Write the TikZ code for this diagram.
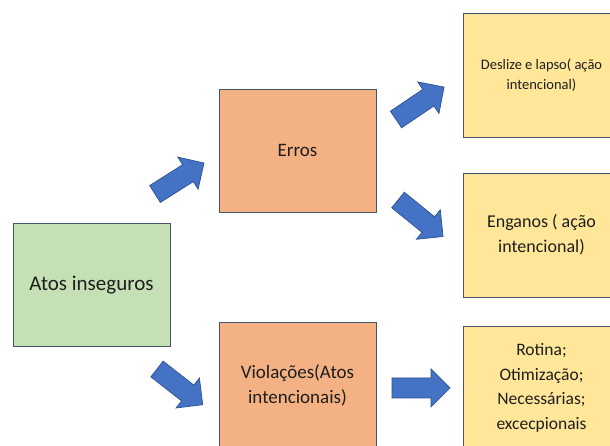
\documentclass[tikz,border=0pt]{standalone}
\usepackage{fontspec}
\setmainfont{Carlito}
\usetikzlibrary{calc}

\definecolor{boxgreen}{HTML}{C5E0B4}
\definecolor{boxorange}{HTML}{F4B183}
\definecolor{boxyellow}{HTML}{FFE699}
\definecolor{boxline}{HTML}{44546A}
\definecolor{arrowfill}{HTML}{4472C4}
\definecolor{arrowline}{HTML}{2F528F}
\definecolor{textdark}{HTML}{1E1E1E}

\tikzset{
  x=1pt, y=1pt,
  box/.style={draw=boxline, line width=0.9pt, minimum width=157pt,
    minimum height=123pt, inner sep=0pt, align=center, text=textdark},
  greenbox/.style={box, fill=boxgreen},
  orangebox/.style={box, fill=boxorange},
  yellowbox/.style={box, fill=boxyellow},
  arrowbody/.style={fill=arrowfill, draw=arrowline, line width=0.7pt, line join=miter},
  pics/blockarrow/.style={code={
    \draw[arrowbody] (0,-10) -- (39,-10) -- (39,-19) -- (58,0)
      -- (39,19) -- (39,10) -- (0,10) -- cycle;}}
}

\begin{document}
\begin{tikzpicture}
\useasboundingbox (0,0) rectangle (610,446);
\clip (0,0) rectangle (610,446);
\fill[white] (0,0) rectangle (610,446);

% boxes
\node[greenbox, font=\fontsize{21}{25}\selectfont] (atos) at (91.5,161)
  {Atos inseguros};
\node[orangebox, font=\fontsize{19}{24}\selectfont] (erros) at (297.5,295.5)
  {Erros};
\node[orangebox, minimum height=127pt, font=\fontsize{19}{25}\selectfont] (viol) at (297.5,60.5)
  {Violações(Atos\\intencionais)};
\node[yellowbox, minimum height=124pt, font=\fontsize{14.5}{20}\selectfont] (deslize) at (541.5,371)
  {Deslize e lapso( ação\\intencional)};
\node[yellowbox, minimum height=124pt, font=\fontsize{18}{25}\selectfont] (enganos) at (541.5,211)
  {Enganos ( ação\\intencional)};
\node[yellowbox, minimum height=124pt, font=\fontsize{17.5}{24.5}\selectfont] (rotina) at (541.5,58)
  {Rotina;\\Otimização;\\Necessárias;\\excecpionais};

% block arrows between the boxes
\coordinate (a1) at (155,252);
\coordinate (a2) at (396,326.5);
\coordinate (a3) at (398,246);
\coordinate (a4) at (157,77);
\coordinate (a5) at (392,58);
\pic[rotate=32.3] at (a1) {blockarrow};
\pic[rotate=34] at (a2) {blockarrow};
\pic[rotate=-39] at (a3) {blockarrow};
\pic[rotate=-38] at (a4) {blockarrow};
\pic at (a5) {blockarrow};
\end{tikzpicture}
\end{document}
